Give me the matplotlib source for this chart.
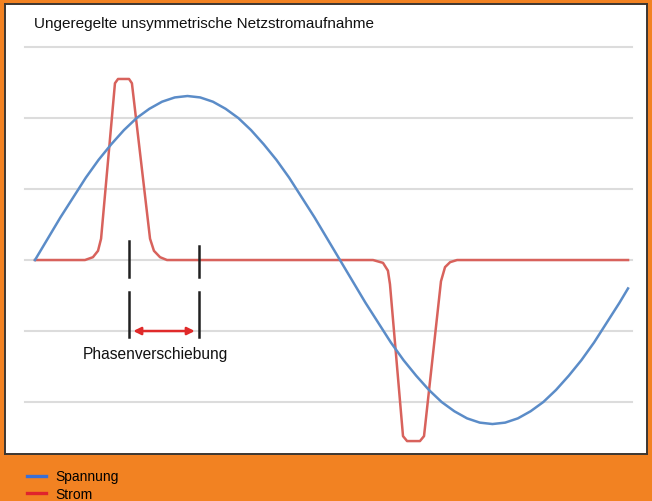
#!/usr/bin/env python3

# plot.py
#
# Unregulated, unsymmetrical mains current draw: voltage vs. current over one period.
import matplotlib
matplotlib.use('Agg')
import matplotlib.pyplot as plt
from matplotlib.lines import Line2D

# Voltage curve (phase in degrees, value in grid units)
voltage_phase = [0, 7.5, 15, 22.5, 30, 37.5, 45, 52.5, 60, 67.5, 75, 82.5,
                 90, 97.5, 105, 112.5, 120, 127.5, 135, 142.5, 150, 157.5, 165, 172.5,
                 180, 187.5, 195, 202.5, 210, 217.5, 225, 232.5, 240, 247.5, 255, 262.5,
                 270, 277.5, 285, 292.5, 300, 307.5, 315, 322.5, 330, 337.5, 345, 350]
voltage_value = [0, 0.30, 0.60, 0.88, 1.16, 1.41, 1.63, 1.83, 2.00, 2.13, 2.23, 2.29,
                 2.31, 2.29, 2.23, 2.13, 2.00, 1.83, 1.63, 1.41, 1.16, 0.88, 0.60, 0.30,
                 0, -0.30, -0.60, -0.88, -1.16, -1.41, -1.63, -1.83, -2.00, -2.13, -2.23, -2.29,
                 -2.31, -2.29, -2.23, -2.13, -2.00, -1.83, -1.63, -1.41, -1.16, -0.88, -0.60,
                 -0.40]

# Current curve: short pulses near the voltage peaks
current_phase = [0, 29.5, 34.2, 37.2, 39.0, 47.2, 49.0, 55.5, 57.2, 67.9, 70.2, 73.8, 77.9,
                 199.5, 205.4, 208.3, 209.5, 217.2, 219.6, 227.2, 229.6, 239.6, 242.0,
                 245.0, 249.1, 350.0]
current_value = [0, 0, 0.04, 0.13, 0.30, 2.49, 2.55, 2.55, 2.49, 0.30, 0.13, 0.04, 0,
                 0, -0.04, -0.15, -0.34, -2.48, -2.55, -2.55, -2.48, -0.30, -0.10,
                 -0.03, 0, 0]

grid_levels = [-2, -1, 0, 1, 2, 3]
shift_start, shift_end = 55.5, 96.8

TITLE = 'Ungeregelte unsymmetrische Netzstromaufnahme'
SERIES = ['Spannung', 'Strom']

ORANGE = '#f28222'
BLUE, RED = '#5b8cc8', '#d8625c'

plt.rcParams['font.family'] = ['Liberation Sans', 'DejaVu Sans']

fig = plt.figure(figsize=(6.52, 5.02), dpi=100, facecolor=ORANGE)
ax = fig.add_axes([5 / 652, 47 / 502, 642 / 652, 450 / 502])
ax.set_facecolor('white')
ax.set_xlim(-17.7, 361.2)
ax.set_ylim(-2.732, 3.606)
ax.set_xticks([])
ax.set_yticks([])
for spine in ax.spines.values():
    spine.set_color('#3c3632')
    spine.set_linewidth(1.4)

# Horizontal grid
for level in grid_levels:
    ax.plot([-5.9, 352.3], [level, level], color='#dcdcdc', lw=1.5, zorder=1)

ax.plot(voltage_phase, voltage_value, color=BLUE, lw=1.8, zorder=3,
        solid_joinstyle='round')
ax.plot(current_phase, current_value, color=RED, lw=1.8, zorder=2,
        solid_joinstyle='round')

# Phase shift markers
ax.plot([shift_start, shift_start], [0.27, -0.24], color='#202020', lw=1.8, zorder=4)
ax.plot([shift_start, shift_start], [-0.45, -1.08], color='#202020', lw=1.8, zorder=4)
ax.plot([shift_end, shift_end], [0.20, -0.24], color='#202020', lw=1.8, zorder=4)
ax.plot([shift_end, shift_end], [-0.45, -1.08], color='#202020', lw=1.8, zorder=4)
ax.annotate('', xy=(shift_start + 2.5, -1.0), xytext=(shift_end - 2.5, -1.0),
            arrowprops=dict(arrowstyle='<|-|>', color='#e02a2a', lw=1.8,
                            mutation_scale=11, shrinkA=0, shrinkB=0), zorder=4)
ax.text(70.8, -1.32, 'Phasenverschiebung', ha='center',
        va='center', fontsize=11.2, color='#111111')

ax.text(0.045, 0.958, TITLE, transform=ax.transAxes, ha='left', va='center',
        fontsize=11, color='#111111')

handles = [Line2D([], [], color='#3a6fd6', lw=2.4), Line2D([], [], color='#e0242c', lw=2.4)]
fig.legend(handles, SERIES, loc='upper left', bbox_to_anchor=(0.041, 0.063), frameon=False,
           fontsize=10, handlelength=1.42, handletextpad=0.62, labelspacing=0.28,
           borderpad=0, borderaxespad=0)

plt.savefig('out.png', dpi=100, facecolor=ORANGE)
